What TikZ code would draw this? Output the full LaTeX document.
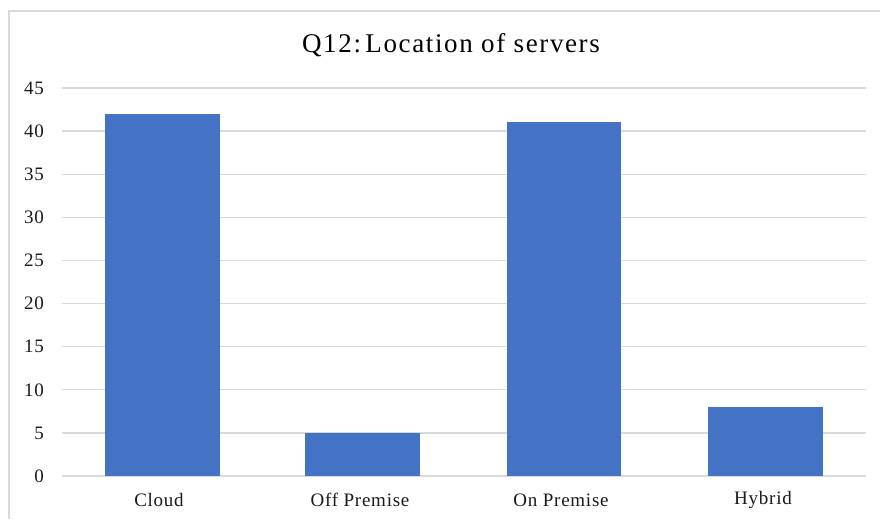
\documentclass[tikz,border=0pt]{standalone}
\usepackage{fontspec}
\setmainfont{Liberation Serif}
\newfontfamily\chartfont[LetterSpace=4]{Liberation Serif}
\newfontfamily\titlefont[LetterSpace=6]{Liberation Serif}
\usepackage{xcolor}
\definecolor{BarBlue}{HTML}{4472C4}
\definecolor{GridGray}{HTML}{D9D9D9}
\definecolor{LabelInk}{HTML}{1A1A1A}

\begin{document}
\begin{tikzpicture}[
  x=1pt, y=-1pt,
  every node/.style={font=\chartfont\fontsize{19}{21}\selectfont, text=LabelInk},
  grid/.style={draw=GridGray, line width=1.3pt},
  frame/.style={draw=GridGray, line width=1.6pt},
  bar/.style={fill=BarBlue},
  tick/.style={anchor=east, inner sep=0pt},
  cat/.style={anchor=center, inner sep=0pt},
  title/.style={font=\titlefont\fontsize{27}{30}\selectfont, text=black},
]
\useasboundingbox (0,0) rectangle (880,519);

%% ── Chart frame ──────────────────────────────
\draw[frame] (9,519) -- (9,11) -- (880,11);

%% ── Title ────────────────────────────────────
\node[title] (ttl) at (451,45) {Q12:\,Location of servers};

%% ── Gridlines + value axis ───────────────────
\foreach \v in {0,5,...,45}{
  \draw[grid] (62,{476-\v*8.622}) -- (866,{476-\v*8.622});
  \node[tick] (y\v) at (44,{476-\v*8.622}) {\v};
}

%% ── Bars ─────────────────────────────────────
\fill[bar] (105,476) rectangle (220,{476-42*8.622});
\fill[bar] (305,476) rectangle (420,{476-5*8.622});
\fill[bar] (507,476) rectangle (621,{476-41*8.622});
\fill[bar] (708,476) rectangle (823,{476-8*8.622});

%% ── Category labels ──────────────────────────
\node[cat] (cloud) at (159,500) {Cloud};
\node[cat] (off)   at (360,500) {Off Premise};
\node[cat] (on)    at (561,500) {On Premise};
\node[cat] (hyb)   at (763,500) {Hybrid};

\end{tikzpicture}
\end{document}
